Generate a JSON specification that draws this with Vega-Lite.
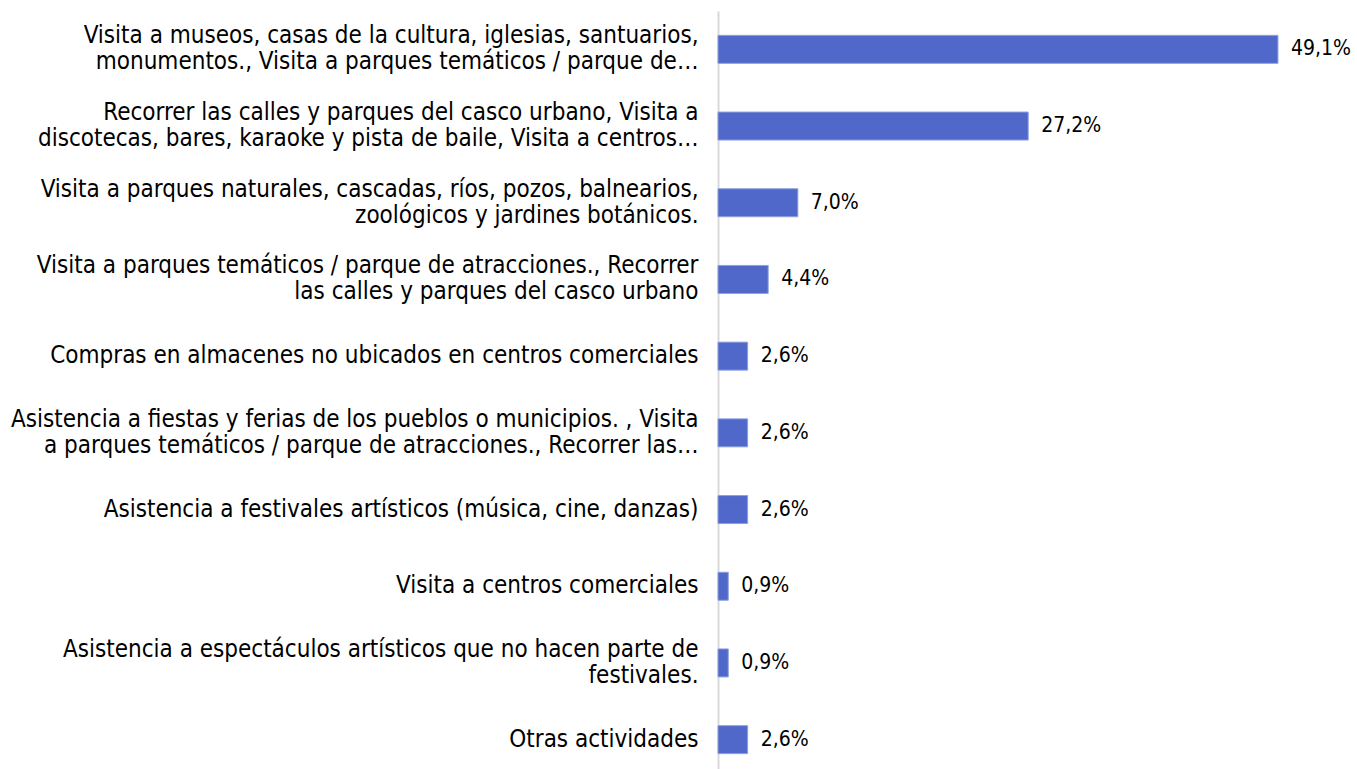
{
  "$schema": "https://vega.github.io/schema/vega-lite/v6.json",
  "autosize": {"type": "none"},
  "padding": {"left": 718, "top": 11, "right": 0, "bottom": 0},
  "width": 639,
  "height": 767,
  "background": "white",
  "config": {
    "view": {"stroke": null},
    "locale": {"number": {"decimal": ",", "thousands": ".", "grouping": [3], "currency": ["", " €"]}}
  },
  "data": {
    "values": [
      {"actividad": "Visita a museos, casas de la cultura, iglesias, santuarios,|monumentos., Visita a parques temáticos / parque de…", "valor": 0.491},
      {"actividad": "Recorrer las calles y parques del casco urbano, Visita a|discotecas, bares, karaoke y pista de baile, Visita a centros…", "valor": 0.272},
      {"actividad": "Visita a parques naturales, cascadas, ríos, pozos, balnearios,|zoológicos y jardines botánicos.", "valor": 0.07},
      {"actividad": "Visita a parques temáticos / parque de atracciones., Recorrer|las calles y parques del casco urbano", "valor": 0.044},
      {"actividad": "Compras en almacenes no ubicados en centros comerciales", "valor": 0.026},
      {"actividad": "Asistencia a fiestas y ferias de los pueblos o municipios. , Visita|a parques temáticos / parque de atracciones., Recorrer las…", "valor": 0.026},
      {"actividad": "Asistencia a festivales artísticos (música, cine, danzas)", "valor": 0.026},
      {"actividad": "Visita a centros comerciales", "valor": 0.009},
      {"actividad": "Asistencia a espectáculos artísticos que no hacen parte de|festivales.", "valor": 0.009},
      {"actividad": "Otras actividades", "valor": 0.026}
    ]
  },
  "encoding": {
    "y": {
      "field": "actividad",
      "type": "nominal",
      "sort": null,
      "scale": {"paddingInner": 0.635, "paddingOuter": 0.3175},
      "axis": {
        "title": null,
        "labelExpr": "split(datum.label, '|')",
        "labelFont": "DejaVu Sans Condensed, DejaVu Sans",
        "labelFontSize": 24,
        "labelColor": "#000000",
        "labelLineHeight": 26,
        "labelLimit": 720,
        "labelPadding": 20,
        "labelOffset": {"condition": {"test": "indexof(datum.label, '|') >= 0", "value": -13}, "value": 0},
        "ticks": false,
        "domainColor": "#d9d9d9",
        "domainWidth": 2,
        "labelAlign": "right",
        "labelBaseline": "middle"
      }
    },
    "x": {
      "field": "valor",
      "type": "quantitative",
      "scale": {"domain": [0, 0.5603], "nice": false},
      "axis": null
    }
  },
  "layer": [
    {
      "mark": {"type": "bar", "color": "#4F68C9", "stroke": "#8FA0DE", "strokeWidth": 1}
    },
    {
      "mark": {"type": "text", "align": "left", "baseline": "middle", "dx": 13, "font": "DejaVu Sans Condensed, DejaVu Sans", "fontSize": 21, "color": "#000000"},
      "encoding": {"text": {"field": "valor", "type": "quantitative", "format": ".1%"}}
    }
  ]
}
